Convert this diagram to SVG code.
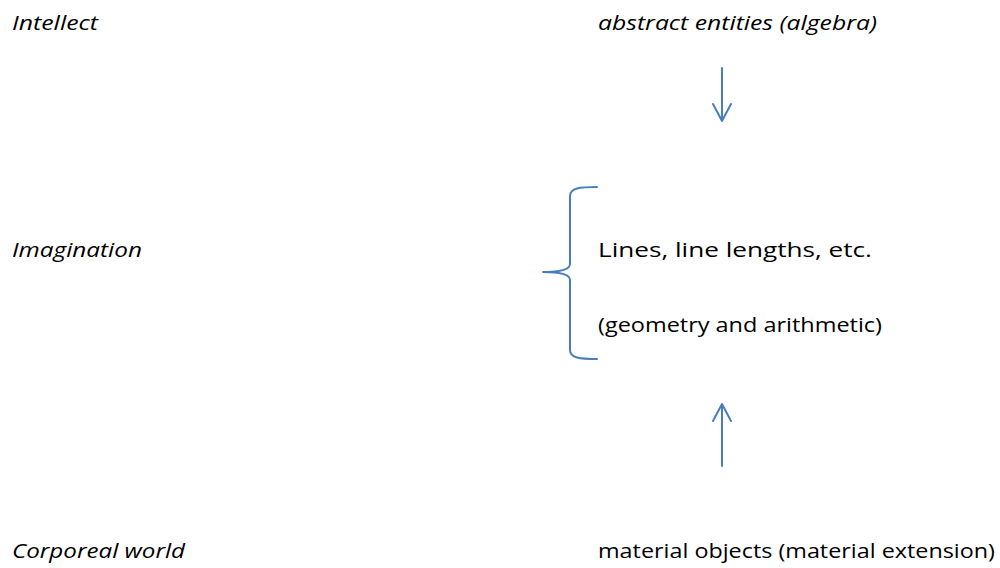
<svg xmlns="http://www.w3.org/2000/svg" width="1000" height="568" viewBox="0 0 1000 568">
<style>
text{font-family:"Open Sans","Liberation Sans",sans-serif;font-size:20px;fill:#000}
.i{font-style:italic}
.c{fill:none;stroke:#4a7ebb;stroke-width:2;stroke-linecap:round;stroke-linejoin:round}
</style>
<rect width="1000" height="568" fill="#fff"/>
<g id="label-intellect"><text class="i" x="12" y="30" textLength="86" lengthAdjust="spacingAndGlyphs">Intellect</text></g>
<g id="label-imagination"><text class="i" x="12" y="257" textLength="130" lengthAdjust="spacingAndGlyphs">Imagination</text></g>
<g id="label-corporeal"><text class="i" x="12" y="558" textLength="173" lengthAdjust="spacingAndGlyphs">Corporeal world</text></g>
<g id="node-abstract"><text class="i" x="598" y="30" textLength="279" lengthAdjust="spacingAndGlyphs">abstract entities (algebra)</text></g>
<g id="node-lines"><text x="598" y="257" textLength="274" lengthAdjust="spacingAndGlyphs">Lines, line lengths, etc.</text><text x="598" y="332" textLength="284" lengthAdjust="spacingAndGlyphs">(geometry and arithmetic)</text></g>
<g id="node-material"><text x="598" y="558" textLength="397" lengthAdjust="spacingAndGlyphs">material objects (material extension)</text></g>
<g id="connectors">
<path class="c" d="M722 68V121M713 104L722 121L731 104"/>
<path class="c" d="M722 466V404M713 421L722 404L731 421"/>
<path class="c" d="M597 187C580 187 570 188 570 196V264C570 270 560 272 543 272C560 272 570 274 570 280V350C570 358 580 359 597 359"/>
</g>
</svg>
